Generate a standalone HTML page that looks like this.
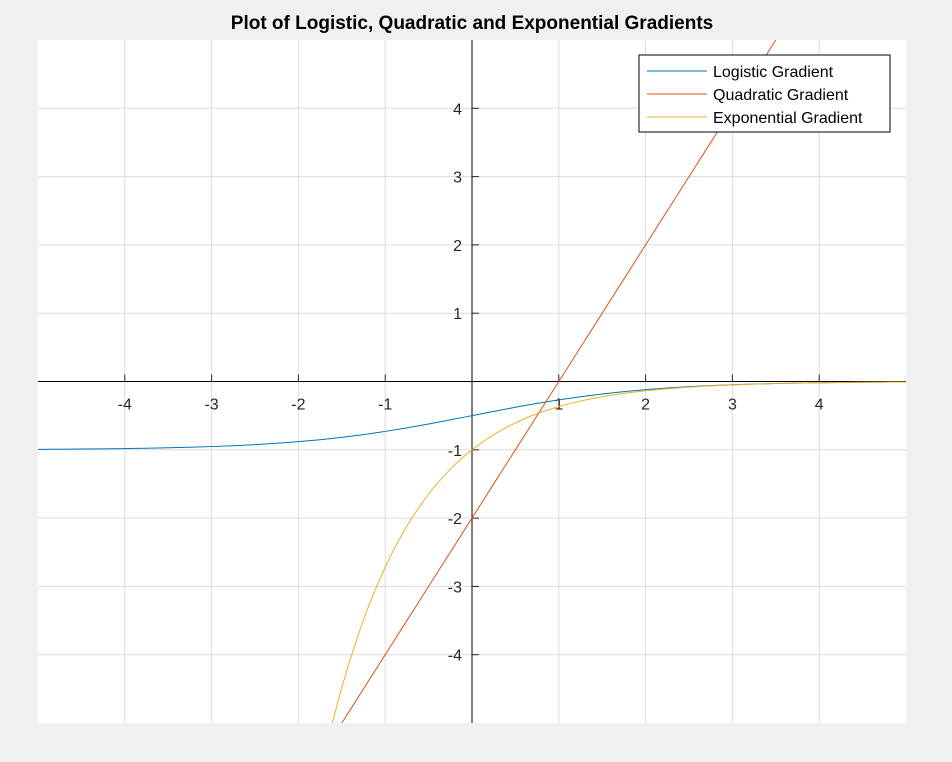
<!DOCTYPE html>
<html><head><meta charset="utf-8"><style>
html,body{margin:0;padding:0;background:#f0f0f0;overflow:hidden;width:952px;height:762px;}
svg{display:block;font-family:"Liberation Sans",Arial,sans-serif;}
</style></head><body>
<svg id="chart" width="952" height="762">
<rect x="0" y="0" width="952" height="762" fill="#f0f0f0"/>
<text x="472" y="29" text-anchor="middle" font-size="19" font-weight="bold" fill="#000">Plot of Logistic, Quadratic and Exponential Gradients</text>
<defs><clipPath id="clip"><rect x="38" y="40" width="868" height="683"/></clipPath></defs>
<rect x="38" y="40" width="868" height="683" fill="#fff"/>
<g id="grid"></g>
<g id="axes"></g>
<g id="series" clip-path="url(#clip)"></g>
<g>
<rect x="639" y="55" width="251" height="77" fill="#fff" stroke="#000" stroke-width="1"/>
<line x1="647" y1="71" x2="707" y2="71" stroke="#0072bd" stroke-width="1"/>
<text x="713" y="77" font-size="16" fill="#000">Logistic Gradient</text>
<line x1="647" y1="94" x2="707" y2="94" stroke="#d95319" stroke-width="1"/>
<text x="713" y="100" font-size="16" fill="#000">Quadratic Gradient</text>
<line x1="647" y1="117" x2="707" y2="117" stroke="#edb120" stroke-width="1"/>
<text x="713" y="123" font-size="16" fill="#000">Exponential Gradient</text>
</g>
</svg>
<script>
const xTicks = [-4,-3,-2,-1,1,2,3,4];
const yTicks = [-4,-3,-2,-1,1,2,3,4];
const xValues = [-5,-4.75,-4.5,-4.25,-4,-3.75,-3.5,-3.25,-3,-2.75,-2.5,-2.25,-2,-1.75,-1.5,-1.25,-1,-0.75,-0.5,-0.25,0,0.25,0.5,0.75,1,1.25,1.5,1.75,2,2.25,2.5,2.75,3,3.25,3.5,3.75,4,4.25,4.5,4.75,5];
const logisticValues = [-0.9933,-0.9914,-0.9890,-0.9859,-0.9820,-0.9770,-0.9707,-0.9627,-0.9526,-0.9399,-0.9241,-0.9047,-0.8808,-0.8520,-0.8176,-0.7773,-0.7311,-0.6792,-0.6225,-0.5622,-0.5,-0.4378,-0.3775,-0.3208,-0.2689,-0.2227,-0.1824,-0.1480,-0.1192,-0.0953,-0.0759,-0.0601,-0.0474,-0.0373,-0.0293,-0.0230,-0.0180,-0.0141,-0.0110,-0.0086,-0.0067];
const quadraticValues = [-12,-11.5,-11,-10.5,-10,-9.5,-9,-8.5,-8,-7.5,-7,-6.5,-6,-5.5,-5,-4.5,-4,-3.5,-3,-2.5,-2,-1.5,-1,-0.5,0,0.5,1,1.5,2,2.5,3,3.5,4,4.5,5,5.5,6,6.5,7,7.5,8];
const expX = [-2,-1.75,-1.5,-1.25,-1,-0.75,-0.5,-0.25,0,0.25,0.5,0.75,1,1.25,1.5,1.75,2,2.25,2.5,2.75,3,3.25,3.5,3.75,4,4.25,4.5,4.75,5];
const exponentialValues = [-7.389,-5.755,-4.482,-3.490,-2.718,-2.117,-1.649,-1.284,-1,-0.7788,-0.6065,-0.4724,-0.3679,-0.2865,-0.2231,-0.1738,-0.1353,-0.1054,-0.0821,-0.0639,-0.0498,-0.0388,-0.0302,-0.0235,-0.0183,-0.0143,-0.0111,-0.0087,-0.0067];

const L=38,R=906,T=40,B=723;
function sx(v){return L+(v+5)/10*(R-L);}
function sy(v){return B-(v+5)/10*(B-T);}
const NS="http://www.w3.org/2000/svg";
function mk(tag,attrs,parent){const e=document.createElementNS(NS,tag);for(const k in attrs)e.setAttribute(k,attrs[k]);parent.appendChild(e);return e;}
const grid=document.getElementById('grid'),axes=document.getElementById('axes'),series=document.getElementById('series');
for(const t of [-4,-3,-2,-1,0,1,2,3,4]){
  const g=mk('line',{x1:sx(t),x2:sx(t),y1:T,y2:B,stroke:'#dcdcdc','stroke-width':1},grid);
  
  
  const h=mk('line',{x1:L,x2:R,y1:sy(t),y2:sy(t),stroke:'#dcdcdc','stroke-width':1},grid);
  
  
}
const xa=mk('line',{x1:L,x2:R,y1:sy(0),y2:sy(0),stroke:'#000','stroke-width':1},axes);


const ya=mk('line',{x1:sx(0),x2:sx(0),y1:T,y2:B,stroke:'#000','stroke-width':1},axes);


for(const t of xTicks){
  const tk=mk('line',{x1:sx(t),x2:sx(t),y1:sy(0)-7,y2:sy(0),stroke:'#262626'},axes);
  
  
  const tx=mk('text',{x:sx(t),y:sy(0)+28,'text-anchor':'middle','font-size':16,fill:'#262626'},axes);
  tx.textContent=t;
  
  
}
for(const t of yTicks){
  const tk=mk('line',{x1:sx(0),x2:sx(0)+7,y1:sy(t),y2:sy(t),stroke:'#262626'},axes);
  
  
  const tx=mk('text',{x:sx(0)-10,y:sy(t)+6,'text-anchor':'end','font-size':16,fill:'#262626'},axes);
  tx.textContent=t;
  
  
}
function smooth(xs,ys){
  const p=xs.map((x,i)=>[sx(x),sy(ys[i])]);
  let d='M'+p[0][0]+','+p[0][1];
  for(let i=0;i<p.length-1;i++){
    const p0=p[i-1]||p[i],p1=p[i],p2=p[i+1],p3=p[i+2]||p2;
    const c1=[p1[0]+(p2[0]-p0[0])/6,p1[1]+(p2[1]-p0[1])/6];
    const c2=[p2[0]-(p3[0]-p1[0])/6,p2[1]-(p3[1]-p1[1])/6];
    d+=' C'+c1+' '+c2+' '+p2;
  }
  return d;
}
const s1=mk('path',{d:smooth(xValues,logisticValues),fill:'none',stroke:'#0072bd','stroke-width':1},series);


const s2=mk('path',{d:smooth(xValues,quadraticValues),fill:'none',stroke:'#d95319','stroke-width':1},series);


const s3=mk('path',{d:smooth(expX,exponentialValues),fill:'none',stroke:'#edb120','stroke-width':1},series);


</script>
</body></html>
